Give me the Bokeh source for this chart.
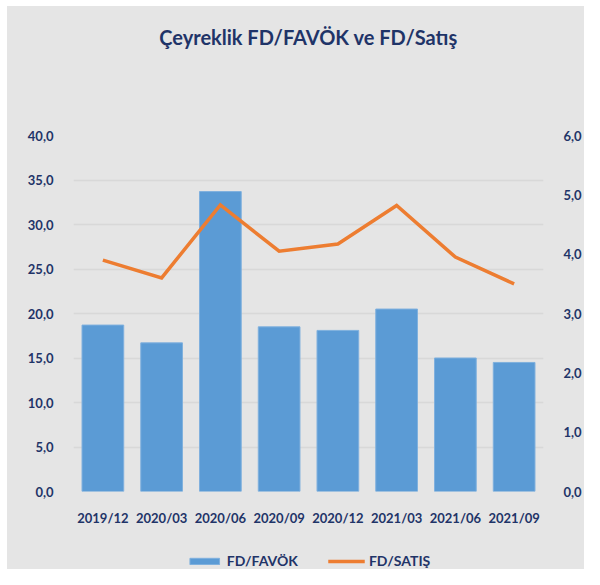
from bokeh.plotting import figure
from bokeh.layouts import column
from bokeh.core.properties import value
from bokeh.models import (Range1d, LinearAxis, FactorRange, Legend, LegendItem,
                          FixedTicker, CustomJSTickFormatter, ColumnDataSource)
from bokeh.embed import file_html
from bokeh.resources import INLINE

title_text = "Çeyreklik FD/FAVÖK ve FD/Satış"
categories = ["2019/12", "2020/03", "2020/06", "2020/09", "2020/12", "2021/03", "2021/06", "2021/09"]
fd_favok = [18.7, 16.7, 33.7, 18.5, 18.1, 20.5, 15.0, 14.5]
fd_satis = [3.9, 3.6, 4.83, 4.05, 4.17, 4.82, 3.95, 3.5]
left_ticks = [0, 5, 10, 15, 20, 25, 30, 35, 40]
right_ticks = [0, 1, 2, 3, 4, 5, 6]
series_names = ["FD/FAVÖK", "FD/SATIŞ"]

NAVY = "#1F3468"
BG = "#E5E5E5"
FONT = "Lato"
BAR_COLOR = "#5B9BD5"
BAR_EDGE = "#7FB0DE"
LINE_COLOR = "#ED7D31"

W = 577
H_TITLE = 60
H_MAIN = 472
H_LEG = 31


def strip(height):
    f = figure(width=W, height=height, output_backend="svg", toolbar_location=None,
               min_border=0, x_range=Range1d(0, 1), y_range=Range1d(0, 1))
    f.background_fill_color = None
    f.border_fill_color = BG
    f.outline_line_color = None
    f.axis.visible = False
    f.grid.grid_line_color = None
    return f


# title strip
t = strip(H_TITLE)
t.text(x=[0.5], y=[0.5], text=[title_text], text_align="center", text_baseline="middle",
       text_font=value(FONT), text_font_style="bold", text_font_size="20px",
       text_color=NAVY)

# main chart
p = figure(x_range=FactorRange(*categories, range_padding=0.0), y_range=Range1d(0, 40),
           width=W, height=H_MAIN, output_backend="svg", toolbar_location=None,
           min_border_left=66, min_border_right=37, min_border_top=69, min_border_bottom=47)
p.background_fill_color = BG
p.border_fill_color = BG
p.outline_line_color = None
p.extra_y_ranges = {"r": Range1d(0, 6)}

src = ColumnDataSource(dict(cat=categories, favok=fd_favok, satis=fd_satis))
p.vbar(x="cat", top="favok", width=0.71, source=src, fill_color=BAR_COLOR,
       line_color=BAR_EDGE, line_width=1)
p.line(x="cat", y="satis", source=src, y_range_name="r", line_color=LINE_COLOR,
       line_width=3.5, line_join="miter")

fmt = CustomJSTickFormatter(code="return tick.toFixed(1).replace('.', ',');")


def style_axis(ax):
    ax.axis_line_color = None
    ax.major_tick_line_color = None
    ax.minor_tick_line_color = None
    ax.major_label_text_color = NAVY
    ax.major_label_text_font = FONT
    ax.major_label_text_font_style = "bold"
    ax.major_label_text_font_size = "13px"


p.yaxis.ticker = FixedTicker(ticks=left_ticks)
p.yaxis.formatter = fmt
p.yaxis.major_label_standoff = 14
style_axis(p.yaxis[0])

ra = LinearAxis(y_range_name="r", ticker=FixedTicker(ticks=right_ticks), formatter=fmt)
ra.major_label_standoff = 14
style_axis(ra)
p.add_layout(ra, "right")

style_axis(p.xaxis[0])
p.xaxis.major_label_standoff = 12

p.xgrid.grid_line_color = None
p.ygrid.ticker = FixedTicker(ticks=left_ticks)
p.ygrid.grid_line_color = "#D8D8D8"
p.ygrid.grid_line_width = 1.5

# legend strip (legend sample renderers sit far outside the visible range)
q = strip(H_LEG)
off = ColumnDataSource(dict(x=[-20, -21], y=[-20, -20], top=[-20, -20], bottom=[-21, -21]))
lb = q.vbar(x="x", top="top", bottom="bottom", width=0.5, source=off,
            fill_color=BAR_COLOR, line_color=BAR_EDGE)
ll = q.line(x="x", y="y", source=off, line_color=LINE_COLOR, line_width=3.5)

legend = Legend(items=[LegendItem(label=series_names[0], renderers=[lb]),
                       LegendItem(label=series_names[1], renderers=[ll])],
                orientation="horizontal", location="bottom_center",
                glyph_width=37, glyph_height=8, label_standoff=4, spacing=30,
                padding=2, margin=0,
                background_fill_alpha=0, border_line_color=None,
                label_text_font=FONT, label_text_font_style="bold",
                label_text_font_size="14px", label_text_color=NAVY)
q.add_layout(legend)

layout = column(t, p, q, spacing=0)
layout.margin = (6, 0, 0, 7)
layout.styles = {"background-color": BG}
open("out.html", "w").write(file_html(layout, INLINE))
